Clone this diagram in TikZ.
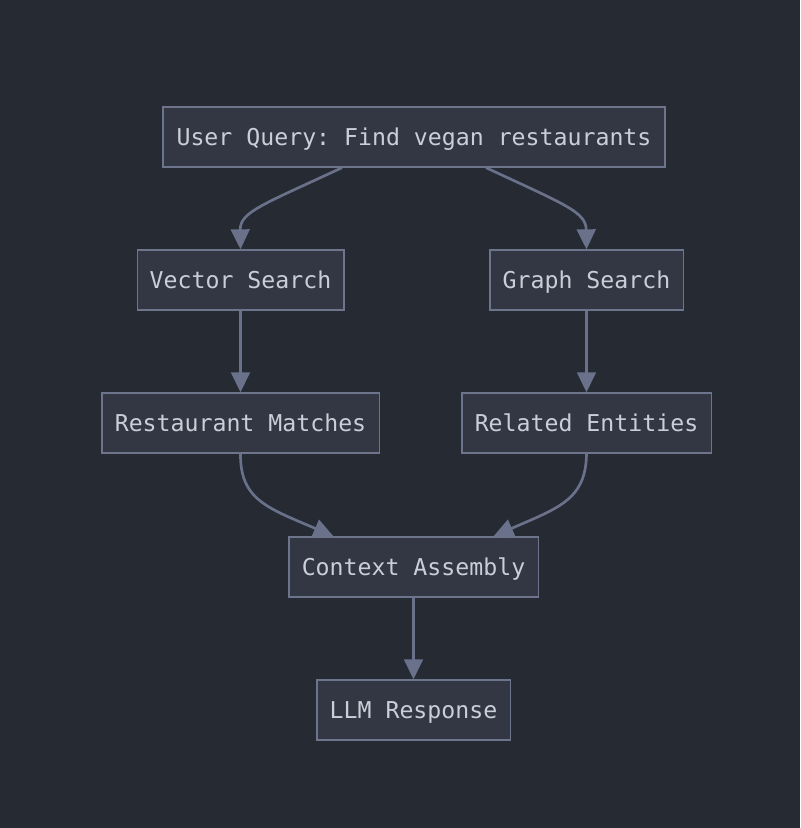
\documentclass[tikz,border=0pt]{standalone}
\usepackage{fontspec}
\setmonofont{DejaVu Sans Mono}
\usetikzlibrary{arrows.meta,calc}
\definecolor{bg}{HTML}{262A33}
\definecolor{nodefill}{HTML}{333743}
\definecolor{nodeborder}{HTML}{6C758B}
\definecolor{edgecol}{HTML}{69728A}
\definecolor{txt}{HTML}{C9CED8}
\begin{document}
\begin{tikzpicture}[x=0.75pt,y=-0.75pt,
  box/.style={draw=nodeborder,fill=nodefill,line width=1pt,minimum height=45pt,inner sep=0pt,
    text height=14.5pt,text depth=1.5pt,
    text=txt,font=\ttfamily\fontsize{17.4pt}{20pt}\selectfont},
  edge/.style={draw=edgecol,line width=2pt,-{Triangle[length=15pt,width=14pt]}}]
\useasboundingbox[fill=bg] (0,0) rectangle (800,828);
\node[box,minimum width=376.5pt] (uq) at (414,137) {User Query: Find vegan restaurants};
\node[box,minimum width=155pt] (vs) at (240.5,280) {Vector Search};
\node[box,minimum width=145pt] (gs) at (586.5,280) {Graph Search};
\node[box,minimum width=208pt] (rm) at (240.5,423) {Restaurant Matches};
\node[box,minimum width=187pt] (re) at (586.5,423) {Related Entities};
\node[box,minimum width=187pt] (ca) at (413.5,567) {Context Assembly};
\node[box,minimum width=145pt] (llm) at (413.5,710) {LLM Response};
\draw[edge] ($(uq.south)+(-72,0)$) .. controls (262,205) and (240,212) .. (vs.north);
\draw[edge] ($(uq.south)+(72,0)$) .. controls (566,205) and (586,212) .. (gs.north);
\draw[edge] (vs.south) -- (rm.north);
\draw[edge] (gs.south) -- (re.north);
\draw[edge] (rm.south) .. controls (240,500) and (268,508) .. ($(ca.north)+(-80,0)$);
\draw[edge] (re.south) .. controls (586,500) and (558,508) .. ($(ca.north)+(80,0)$);
\draw[edge] (ca.south) -- (llm.north);
\end{tikzpicture}
\end{document}
